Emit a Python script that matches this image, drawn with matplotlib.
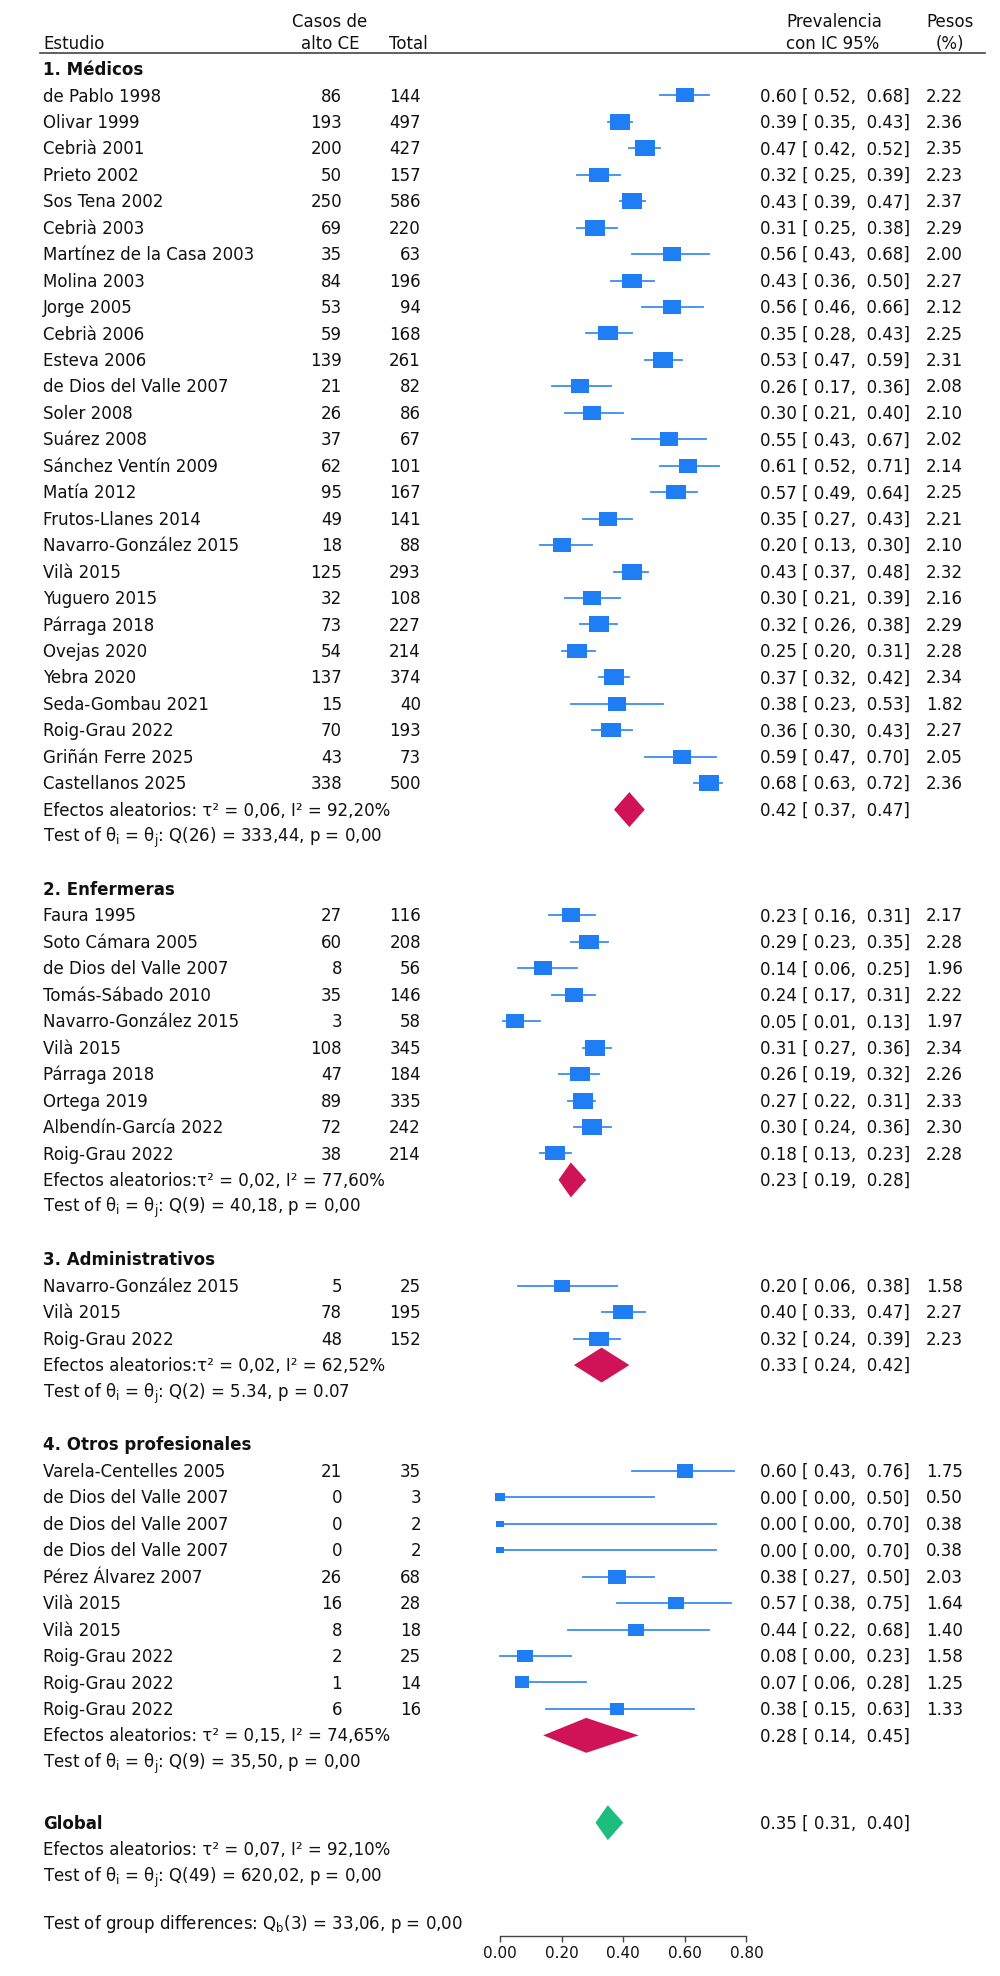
import numpy as np
import matplotlib.pyplot as plt
import matplotlib.transforms as mtransforms
from matplotlib.patches import Polygon

# ---------------- data ----------------
group_names = ["1. Médicos", "2. Enfermeras", "3. Administrativos", "4. Otros profesionales"]
group_sizes = [27, 10, 3, 10]

study = [
    "de Pablo 1998", "Olivar 1999", "Cebrià 2001", "Prieto 2002", "Sos Tena 2002",
    "Cebrià 2003", "Martínez de la Casa 2003", "Molina 2003", "Jorge 2005", "Cebrià 2006",
    "Esteva 2006", "de Dios del Valle 2007", "Soler 2008", "Suárez 2008", "Sánchez Ventín 2009",
    "Matía 2012", "Frutos-Llanes 2014", "Navarro-González 2015", "Vilà 2015", "Yuguero 2015",
    "Párraga 2018", "Ovejas 2020", "Yebra 2020", "Seda-Gombau 2021", "Roig-Grau 2022",
    "Griñán Ferre 2025", "Castellanos 2025",
    "Faura 1995", "Soto Cámara 2005", "de Dios del Valle 2007", "Tomás-Sábado 2010",
    "Navarro-González 2015", "Vilà 2015", "Párraga 2018", "Ortega 2019",
    "Albendín-García 2022", "Roig-Grau 2022",
    "Navarro-González 2015", "Vilà 2015", "Roig-Grau 2022",
    "Varela-Centelles 2005", "de Dios del Valle 2007", "de Dios del Valle 2007",
    "de Dios del Valle 2007", "Pérez Álvarez 2007", "Vilà 2015", "Vilà 2015",
    "Roig-Grau 2022", "Roig-Grau 2022", "Roig-Grau 2022",
]
cases = [86, 193, 200, 50, 250, 69, 35, 84, 53, 59, 139, 21, 26, 37, 62, 95, 49, 18, 125, 32,
         73, 54, 137, 15, 70, 43, 338,
         27, 60, 8, 35, 3, 108, 47, 89, 72, 38,
         5, 78, 48,
         21, 0, 0, 0, 26, 16, 8, 2, 1, 6]
total = [144, 497, 427, 157, 586, 220, 63, 196, 94, 168, 261, 82, 86, 67, 101, 167, 141, 88, 293, 108,
         227, 214, 374, 40, 193, 73, 500,
         116, 208, 56, 146, 58, 345, 184, 335, 242, 214,
         25, 195, 152,
         35, 3, 2, 2, 68, 28, 18, 25, 14, 16]
prev = [0.60, 0.39, 0.47, 0.32, 0.43, 0.31, 0.56, 0.43, 0.56, 0.35, 0.53, 0.26, 0.30, 0.55, 0.61,
        0.57, 0.35, 0.20, 0.43, 0.30, 0.32, 0.25, 0.37, 0.38, 0.36, 0.59, 0.68,
        0.23, 0.29, 0.14, 0.24, 0.05, 0.31, 0.26, 0.27, 0.30, 0.18,
        0.20, 0.40, 0.32,
        0.60, 0.00, 0.00, 0.00, 0.38, 0.57, 0.44, 0.08, 0.07, 0.38]
ci_low = [0.52, 0.35, 0.42, 0.25, 0.39, 0.25, 0.43, 0.36, 0.46, 0.28, 0.47, 0.17, 0.21, 0.43, 0.52,
          0.49, 0.27, 0.13, 0.37, 0.21, 0.26, 0.20, 0.32, 0.23, 0.30, 0.47, 0.63,
          0.16, 0.23, 0.06, 0.17, 0.01, 0.27, 0.19, 0.22, 0.24, 0.13,
          0.06, 0.33, 0.24,
          0.43, 0.00, 0.00, 0.00, 0.27, 0.38, 0.22, 0.00, 0.06, 0.15]
ci_high = [0.68, 0.43, 0.52, 0.39, 0.47, 0.38, 0.68, 0.50, 0.66, 0.43, 0.59, 0.36, 0.40, 0.67, 0.71,
           0.64, 0.43, 0.30, 0.48, 0.39, 0.38, 0.31, 0.42, 0.53, 0.43, 0.70, 0.72,
           0.31, 0.35, 0.25, 0.31, 0.13, 0.36, 0.32, 0.31, 0.36, 0.23,
           0.38, 0.47, 0.39,
           0.76, 0.50, 0.70, 0.70, 0.50, 0.75, 0.68, 0.23, 0.28, 0.63]
weight = [2.22, 2.36, 2.35, 2.23, 2.37, 2.29, 2.00, 2.27, 2.12, 2.25, 2.31, 2.08, 2.10, 2.02, 2.14,
          2.25, 2.21, 2.10, 2.32, 2.16, 2.29, 2.28, 2.34, 1.82, 2.27, 2.05, 2.36,
          2.17, 2.28, 1.96, 2.22, 1.97, 2.34, 2.26, 2.33, 2.30, 2.28,
          1.58, 2.27, 2.23,
          1.75, 0.50, 0.38, 0.38, 2.03, 1.64, 1.40, 1.58, 1.25, 1.33]

pooled_est = [0.42, 0.23, 0.33, 0.28]
pooled_low = [0.37, 0.19, 0.24, 0.14]
pooled_high = [0.47, 0.28, 0.42, 0.45]
re_text = [
    "Efectos aleatorios: τ² = 0,06, I² = 92,20%",
    "Efectos aleatorios:τ² = 0,02, I² = 77,60%",
    "Efectos aleatorios:τ² = 0,02, I² = 62,52%",
    "Efectos aleatorios: τ² = 0,15, I² = 74,65%",
]
het_text = [
    "Test of θ$_{\\rm i}$ = θ$_{\\rm j}$: Q(26) = 333,44, p = 0,00",
    "Test of θ$_{\\rm i}$ = θ$_{\\rm j}$: Q(9) = 40,18, p = 0,00",
    "Test of θ$_{\\rm i}$ = θ$_{\\rm j}$: Q(2) = 5.34, p = 0.07",
    "Test of θ$_{\\rm i}$ = θ$_{\\rm j}$: Q(9) = 35,50, p = 0,00",
]

global_est, global_low, global_high = 0.35, 0.31, 0.40
global_re = "Efectos aleatorios: τ² = 0,07, I² = 92,10%"
global_het = "Test of θ$_{\\rm i}$ = θ$_{\\rm j}$: Q(49) = 620,02, p = 0,00"
group_diff = "Test of group differences: Q$_{\\rm b}$(3) = 33,06, p = 0,00"
xticks = [0.0, 0.2, 0.4, 0.6, 0.8]

# ---------------- layout ----------------
FIG_W, FIG_H = 1000, 1976
ROW_PX, TOP_PX = 26.45, 69
ZERO_PX, UNIT_PX = 500, 308
FS = 12
BASE = 0.23  # baseline offset (rows) so text is centred on its row

SQ_COLOR = "#1f7ef3"
CI_COLOR = "#3a8ef2"
SUB_COLOR = "#d01257"
ALL_COLOR = "#1dbd80"

X_NAME, X_CASES, X_TOTAL, X_EST, X_W = 0.043, 0.342, 0.421, 0.760, 0.963

plt.rcParams['font.family'] = ['DejaVu Sans']

fig = plt.figure(figsize=(FIG_W / 100, FIG_H / 100), dpi=100)
ax = fig.add_axes([0, 0, 1, 1])
ax.set_xlim(-ZERO_PX / UNIT_PX, (FIG_W - ZERO_PX) / UNIT_PX)
ax.set_ylim((FIG_H - TOP_PX) / ROW_PX, -TOP_PX / ROW_PX)
trans = mtransforms.blended_transform_factory(ax.transAxes, ax.transData)


def put(x, row, s, ha='left', bold=False, size=FS):
    ax.text(x, row + BASE, s, transform=trans, ha=ha, va='baseline', fontsize=size,
            fontweight='bold' if bold else 'normal', color='#111111')


def diamond(est, lo, hi, row, color, h=1.32):
    ax.add_patch(Polygon([(lo, row), (est, row - h / 2), (hi, row), (est, row + h / 2)],
                         closed=True, facecolor=color, edgecolor='none', zorder=3))


rect = [(-1, -0.78), (1, -0.78), (1, 0.78), (-1, 0.78)]

# column headers
put(X_NAME, -1, "Estudio")
put(0.330, -1.8, "Casos de", ha='center')
put(0.330, -1, "alto CE", ha='center')
put(0.408, -1, "Total", ha='center')
put(0.786, -1.8, "Prevalencia")
put(0.786, -1, "con IC 95%")
put(0.950, -1.8, "Pesos", ha='center')
put(0.950, -1, "(%)", ha='center')
ax.plot([0.04, 0.985], [-0.6, -0.6], transform=trans, color='#444444', lw=1.2)

row = 0
i = 0
for g in range(len(group_names)):
    put(X_NAME, row, group_names[g], bold=True)
    row += 1
    for k in range(group_sizes[g]):
        ax.plot([ci_low[i], ci_high[i]], [row, row], color=CI_COLOR, lw=1.3, zorder=2)
        ax.scatter([prev[i]], [row], marker=rect, s=84 * weight[i], color=SQ_COLOR,
                   linewidths=0, zorder=3)
        put(X_NAME, row, study[i])
        put(X_CASES, row, str(cases[i]), ha='right')
        put(X_TOTAL, row, str(total[i]), ha='right')
        put(X_EST, row, f"{prev[i]:.2f} [{ci_low[i]:5.2f}, {ci_high[i]:5.2f}]")
        put(X_W, row, f"{weight[i]:.2f}", ha='right')
        row += 1
        i += 1
    diamond(pooled_est[g], pooled_low[g], pooled_high[g], row, SUB_COLOR)
    put(X_NAME, row, re_text[g])
    put(X_EST, row, f"{pooled_est[g]:.2f} [{pooled_low[g]:5.2f}, {pooled_high[g]:5.2f}]")
    row += 1
    put(X_NAME, row, het_text[g])
    row += 2

row += 0.3
diamond(global_est, global_low, global_high, row, ALL_COLOR)
put(X_NAME, row, "Global", bold=True)
put(X_EST, row, f"{global_est:.2f} [{global_low:5.2f}, {global_high:5.2f}]")
put(X_NAME, row + 1, global_re)
put(X_NAME, row + 2, global_het)
put(X_NAME, row + 3.8, group_diff)

# x axis
for side in ['top', 'left', 'right']:
    ax.spines[side].set_visible(False)
ax.spines['bottom'].set_position(('data', row + 4.3))
ax.spines['bottom'].set_bounds(xticks[0], xticks[-1])
ax.spines['bottom'].set_color('#444444')
ax.spines['bottom'].set_linewidth(1.0)
ax.set_xticks(xticks)
ax.set_xticklabels([f"{t:.2f}" for t in xticks])
ax.tick_params(axis='x', direction='out', length=4, width=1.0, color='#444444',
               labelsize=11, pad=3, labelcolor='#111111')
ax.set_yticks([])

fig.savefig('out.png', dpi=100)
